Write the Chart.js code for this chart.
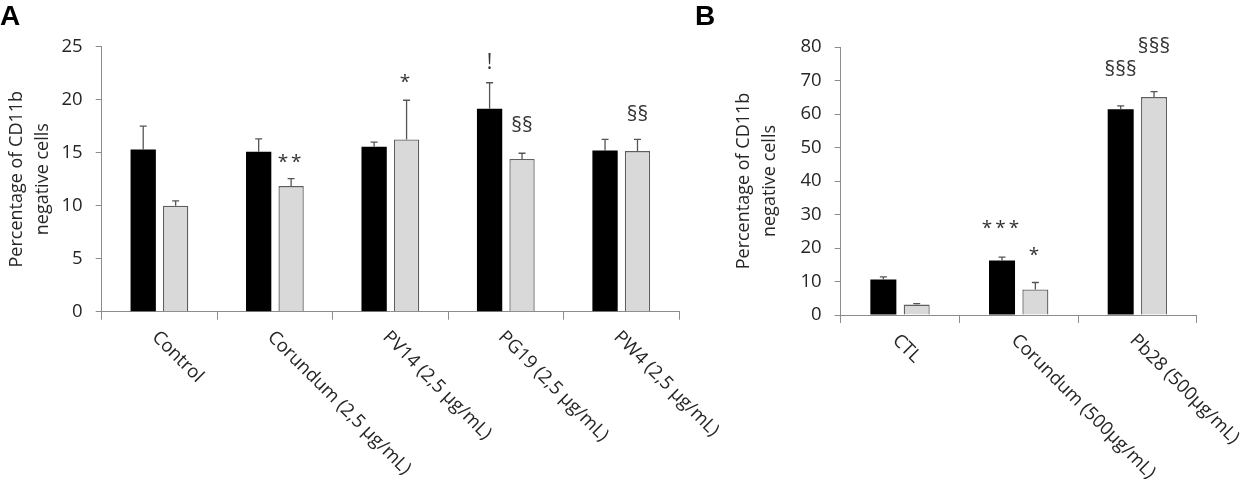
<!DOCTYPE html>
<html>
<head>
<meta charset="utf-8">
<script src="https://cdn.jsdelivr.net/npm/chart.js@4"></script>
<style>
  html, body { margin: 0; padding: 0; background: #fff; }
  body { width: 1250px; height: 486px; position: relative; overflow: hidden; }
  .panel { position: absolute; top: 0; height: 486px; }
  #panelA { left: 0; width: 760px; }
  #panelB { left: 700px; width: 550px; }
  .letter { position: absolute; font-family: "Liberation Sans", Arial, sans-serif; font-weight: bold; font-size: 28px; color: #000; line-height: 1; }
</style>
</head>
<body>
<div class="panel" id="panelA"><canvas id="chartA"></canvas></div>
<div class="panel" id="panelB"><canvas id="chartB"></canvas></div>
<div class="letter" style="left:0px; top:2px;">A</div>
<div class="letter" style="left:695px; top:2px;">B</div>
<script>
// Panel A
const catsA = ['Control', 'Corundum (2,5 µg/mL)', 'PV14 (2,5 µg/mL)', 'PG19 (2,5 µg/mL)', 'PW4 (2,5 µg/mL)'];
const blackA = [15.3, 15.1, 15.55, 19.15, 15.2];
const blackErrA = [2.2, 1.2, 0.45, 2.45, 1.05];
const greyA = [10.0, 11.85, 16.25, 14.4, 15.15];
const greyErrA = [0.45, 0.7, 3.7, 0.55, 1.1];
const marksBlackA = ['', '', '', '!', ''];
const markLevelBlackA = [null, null, null, 23.5, null];
const marksGreyA = ['', '**', '*', '§§', '§§'];
const markLevelGreyA = [null, 14.1, 21.6, 17.5, 18.6];

// Panel B
const catsB = ['CTL', 'Corundum (500µg/mL)', 'Pb28 (500µg/mL)'];
const blackB = [10.6, 16.3, 61.45];
const blackErrB = [0.8, 1.0, 1.0];
const greyB = [3.1, 7.6, 65.05];
const greyErrB = [0.3, 2.1, 1.65];
const marksBlackB = ['', '***', '§§§'];
const markLevelBlackB = [null, 25.8, 73];
const marksGreyB = ['', '*', '§§§'];
const markLevelGreyB = [null, 17.6, 80];

const FONT = "'Open Sans', sans-serif";
const TEXT = '#262626';
const AXIS = '#8c8c8c';

// error bars (upper half only) + significance marks
const extrasPlugin = {
    id: 'extras',
    afterDatasetsDraw(chart) {
        const ctx = chart.ctx;
        const y = chart.scales.y;
        chart.data.datasets.forEach((ds, di) => {
            const meta = chart.getDatasetMeta(di);
            meta.data.forEach((bar, i) => {
                const top = y.getPixelForValue(ds.data[i] + ds.errors[i]);
                ctx.save();
                ctx.strokeStyle = '#555';
                ctx.lineWidth = 1.3;
                ctx.beginPath();
                ctx.moveTo(bar.x, bar.y);
                ctx.lineTo(bar.x, top);
                ctx.moveTo(bar.x - 3.5, top);
                ctx.lineTo(bar.x + 3.5, top);
                ctx.stroke();
                const mark = ds.marks[i];
                if (mark) {
                    const star = mark.startsWith('*');
                    ctx.fillStyle = '#333';
                    ctx.font = (star ? '19px ' : '21px ') + FONT;
                    ctx.textAlign = 'center';
                    ctx.textBaseline = 'middle';
                    ctx.letterSpacing = star ? '3px' : '0px';
                    ctx.fillText(mark, bar.x, y.getPixelForValue(ds.markLevels[i]));
                }
                ctx.restore();
            });
        });
    },
    // category labels slanted downwards to the right
    afterDraw(chart) {
        const ctx = chart.ctx;
        const x = chart.scales.x;
        ctx.save();
        ctx.fillStyle = TEXT;
        ctx.font = '18.5px ' + FONT;
        ctx.textAlign = 'left';
        ctx.textBaseline = 'top';
        chart.data.labels.forEach((lbl, i) => {
            const px = x.getPixelForTick(i);
            ctx.save();
            ctx.translate(px + 2, chart.chartArea.bottom + 16);
            ctx.rotate(Math.PI / 4);
            ctx.fillText(lbl, 0, 0);
            ctx.restore();
        });
        ctx.restore();
    }
};

function makeChart(id, cats, black, blackErr, marksBlack, levelBlack, grey, greyErr, marksGrey, levelGrey, opts) {
    const ctx = document.getElementById(id).getContext('2d');
    return new Chart(ctx, {
        type: 'bar',
        data: {
            labels: cats,
            datasets: [{
                label: 'Series 1',
                data: black,
                errors: blackErr,
                marks: marksBlack,
                markLevels: levelBlack,
                backgroundColor: '#000000',
                borderWidth: 0
            }, {
                label: 'Series 2',
                data: grey,
                errors: greyErr,
                marks: marksGrey,
                markLevels: levelGrey,
                backgroundColor: '#d9d9d9',
                borderColor: '#5f5f5f',
                borderWidth: 1.3
            }]
        },
        options: {
            responsive: true,
            maintainAspectRatio: false,
            animation: false,
            categoryPercentage: 0.562,
            barPercentage: 0.78,
            layout: {
                autoPadding: false,
                padding: { top: opts.top, right: opts.right, left: 0, bottom: 0 }
            },
            plugins: {
                legend: { display: false },
                tooltip: { enabled: false }
            },
            scales: {
                x: {
                    grid: {
                        drawOnChartArea: false,
                        drawTicks: true,
                        tickLength: 8,
                        color: AXIS
                    },
                    border: { color: AXIS, width: 1 },
                    ticks: { display: false },
                    afterFit: (s) => { s.height = opts.xHeight; }
                },
                y: {
                    min: 0,
                    max: opts.max,
                    grid: {
                        drawOnChartArea: false,
                        drawTicks: true,
                        tickLength: 6,
                        color: AXIS
                    },
                    border: { color: AXIS, width: 1 },
                    ticks: {
                        stepSize: opts.step,
                        padding: 13,
                        color: TEXT,
                        font: { family: FONT, size: 18.5 }
                    },
                    title: {
                        display: true,
                        text: ['Percentage of CD11b', 'negative cells'],
                        color: TEXT,
                        font: { family: FONT, size: 18, lineHeight: 1.45 },
                        padding: { top: opts.titlePad, bottom: 0 }
                    },
                    afterFit: (s) => { s.width = opts.yWidth; }
                }
            }
        },
        plugins: [extrasPlugin]
    });
}

document.addEventListener('DOMContentLoaded', () => {
    makeChart('chartA', catsA, blackA, blackErrA, marksBlackA, markLevelBlackA,
        greyA, greyErrA, marksGreyA, markLevelGreyA,
        { max: 25, step: 5, top: 46.7, right: 81, xHeight: 174.3, yWidth: 101.7, titlePad: 4 });
    makeChart('chartB', catsB, blackB, blackErrB, marksBlackB, markLevelBlackB,
        greyB, greyErrB, marksGreyB, markLevelGreyB,
        { max: 80, step: 10, top: 47, right: 53.3, xHeight: 171, yWidth: 140.7, titlePad: 31 });
});
</script>
</body>
</html>
